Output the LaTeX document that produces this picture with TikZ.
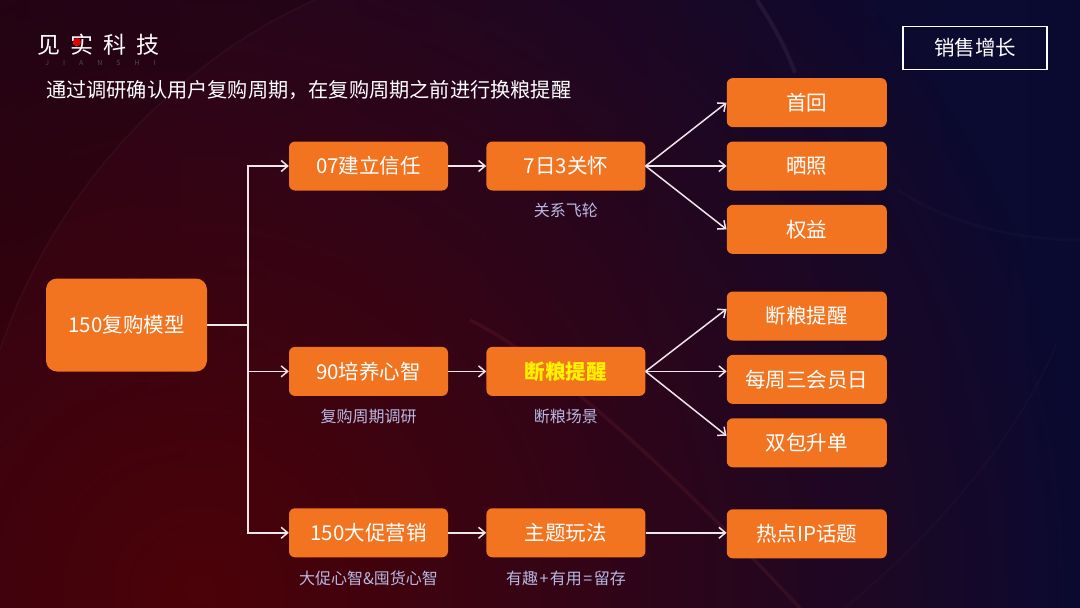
\documentclass[tikz,border=0pt]{standalone}
\usepackage{fontspec}
\setmainfont{Noto Sans CJK SC}
\usepackage{xcolor}
\usetikzlibrary{arrows.meta,positioning,fadings}
\definecolor{boxorange}{HTML}{F27420}
\definecolor{capblue}{HTML}{B9B8E2}
\definecolor{arrowwhite}{HTML}{EFE6EC}
\definecolor{glowred}{HTML}{4C0208}
\definecolor{bgleft}{HTML}{1C0410}
\definecolor{bgmid}{HTML}{150726}
\definecolor{bgblue}{HTML}{0B0A30}
\definecolor{bgright}{HTML}{050A38}
\pgfdeclarehorizontalshading{bgshade}{100bp}{
  color(0bp)=(bgleft);
  color(40bp)=(bgmid);
  color(70bp)=(bgblue);
  color(100bp)=(bgright)}
\tikzfading[name=glowfade, inner color=transparent!0, outer color=transparent!100]
\tikzset{
  fbox/.style={fill=boxorange, text=white, rounded corners=6pt, align=center, font=\fontsize{20.5}{24}\selectfont, minimum width=159pt, minimum height=49pt, inner sep=0pt},
  rootbox/.style={fbox, rounded corners=11pt, minimum width=161pt, minimum height=93pt},
  dbox/.style={fbox, minimum width=160pt},
  capnode/.style={text=capblue, font=\fontsize{16}{18}\selectfont, inner sep=0pt},
  farr/.style={-{Straight Barb[length=6.5pt,width=11pt]}, line width=1.5pt, draw=arrowwhite}
}

\begin{document}
\begin{tikzpicture}[x=1pt,y=-1pt]
% background
\useasboundingbox (0,0) rectangle (1080,608);
\begin{scope}
\clip (0,0) rectangle (1080,608);
\shade[shading=bgshade] (0,0) rectangle (1080,608);
\fill[glowred, path fading=glowfade] (200,590) circle (900pt);
\fill[black, opacity=0.12] (0,0) -- (315,0) .. controls (200,50) and (60,170) .. (0,350) -- cycle;
\draw[white, opacity=0.04, line width=1.5pt] (315,0) .. controls (200,50) and (60,170) .. (0,350);
\draw[white, opacity=0.06, line width=4pt] (757,0) .. controls (770,20) and (785,45) .. (795,73);
\draw[white, opacity=0.02, line width=3pt] (898,190) .. controls (950,225) and (1020,240) .. (1080,240);
\draw[white, opacity=0.02, line width=2pt] (1057,343) .. controls (1020,430) and (950,520) .. (845,608);
\draw[red!60!white, opacity=0.08, line width=3.5pt] (470,320) .. controls (560,365) and (690,490) .. (800,608);
\end{scope}
% logo and header
\node[text=white, font=\fontsize{23}{26}\selectfont, inner sep=0pt] (logo) at (98.5,45) {见\hspace{10pt}实\hspace{10pt}科\hspace{10pt}技};
\fill[red!90!black] (77,42) circle (4pt);
\node[text=white!30!black, font=\fontsize{7}{8}\selectfont, inner sep=0pt] (logosub) at (100.5,62.5) {J\hspace{14pt}I\hspace{14pt}A\hspace{14pt}N\hspace{14pt}S\hspace{14pt}H\hspace{14pt}I};
\node[text=white, font=\fontsize{20.2}{24}\selectfont, inner sep=0pt, anchor=west] (title) at (46,90.5) {通过调研确认用户复购周期\symbol{"FF0C}在复购周期之前进行换粮提醒};
\node[draw=white, line width=1.3pt, text=white, font=\fontsize{20.5}{24}\selectfont, minimum width=144pt, minimum height=43pt, inner sep=0pt] (tag) at (975,48) {销售增长};
% boxes
\node[rootbox] (a0) at (126.5,325) {150复购模型};
\node[fbox] (b1) at (368.5,166) {07建立信任};
\node[fbox, below=156pt of b1] (b2) {90培养心智};
\node[fbox, below=112pt of b2] (b3) {150大促营销};
\node[fbox, right=38pt of b1] (c1) {7日3关怀};
\node[fbox, right=38pt of b2, text=yellow, font=\fontsize{20.5}{24}\selectfont\bfseries] (c2) {断粮提醒};
\node[fbox, right=38pt of b3] (c3) {主题玩法};
\node[dbox, right=81pt of c1] (d2) {晒照};
\node[dbox, above=14pt of d2] (d1) {首回};
\node[dbox, below=14pt of d2] (d3) {权益};
\node[dbox, right=81pt of c2, yshift=-8pt] (d5) {每周三会员日};
\node[dbox, above=14pt of d5] (d4) {断粮提醒};
\node[dbox, below=14pt of d5] (d6) {双包升单};
\node[dbox, right=81pt of c3, yshift=-1pt] (d7) {热点IP话题};
% captions
\node[capnode, below=12pt of c1] (n1) {关系飞轮};
\node[capnode, below=12.5pt of b2] (n2) {复购周期调研};
\node[capnode, below=12.5pt of c2] (n3) {断粮场景};
\node[capnode, below=13.5pt of b3] (n4) {大促心智\&囤货心智};
\node[capnode, below=13.5pt of c3] (n5) {有趣\hspace{1.5pt}+\hspace{1.5pt}有用\hspace{1.5pt}=\hspace{1.5pt}留存};
% connectors
\coordinate (trunk) at (248,325);
\draw[line width=1.5pt, draw=arrowwhite] (a0.east) -- (trunk);
\draw[farr] (trunk) |- (b1.west);
\draw[farr] (trunk) |- (b2.west);
\draw[farr] (trunk) |- (b3.west);
\draw[farr] (b1)--(c1);
\draw[farr] (b2)--(c2);
\draw[farr] (b3)--(c3);
\draw[farr] (c1.east)--(d1.west);
\draw[farr] (c1.east)--(d2.west);
\draw[farr] (c1.east)--(d3.west);
\draw[farr] (c2.east)--([yshift=7pt]d4.west);
\draw[farr] (c2.east)--(d5.west |- c2.east);
\draw[farr] (c2.east)--([yshift=7pt]d6.west);
\draw[farr] (c3.east)--(d7.west |- c3.east);
\end{tikzpicture}
\end{document}
